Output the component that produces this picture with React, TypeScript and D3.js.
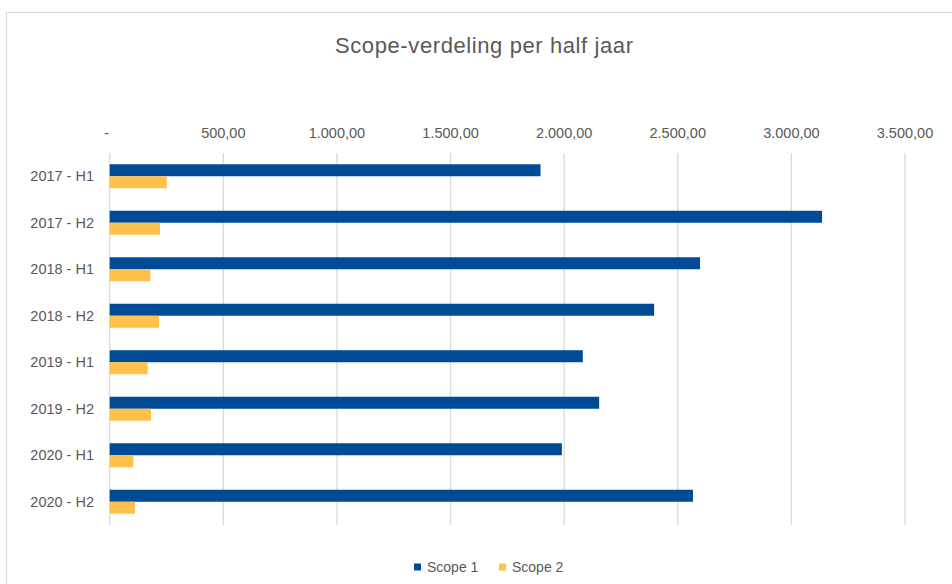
import { useMemo } from "react";
import * as d3 from "d3";

const categories = [
  "2017 - H1",
  "2017 - H2",
  "2018 - H1",
  "2018 - H2",
  "2019 - H1",
  "2019 - H2",
  "2020 - H1",
  "2020 - H2",
];
const seriesNames = ["Scope 1", "Scope 2"];
const scope1 = [1896, 3135, 2598, 2396, 2082, 2154, 1990, 2567];
const scope2 = [251, 221, 179, 217, 167, 182, 104, 111];
const xTicks = [0, 500, 1000, 1500, 2000, 2500, 3000, 3500];

const colors = ["#004a96", "#ffc04c"];
const font = "'Liberation Sans', Arial, sans-serif";
const textColor = "#595959";

const nl = d3.formatLocale({
  decimal: ",",
  thousands: ".",
  grouping: [3],
  currency: ["", ""],
});
const fmt = (v: number) => (v === 0 ? "-" : nl.format(",.2f")(v));

export default function App() {
  const width = 952;
  const height = 584;

  const x = useMemo(() => d3.scaleLinear().domain([0, 3500]).range([109.7, 905]), []);
  const y = useMemo(() => d3.scaleBand<string>().domain(categories).range([153, 525]), []);
  const barH = 12;
  const inner = useMemo(
    () => d3.scaleBand<string>().domain(seriesNames).range([0, barH * 2]),
    []
  );
  const offset = (y.bandwidth() - barH * 2) / 2;
  const values = [scope1, scope2];

  return (
    <svg
      width={width}
      height={height}
      style={{ position: "absolute", left: 0, top: 0, background: "#fff" }}
      fontFamily={font}
    >
      <rect x={6.5} y={12.5} width={960} height={600} fill="#fff" stroke="#d9d9d9" />
      <text
        x={484}
        y={52.5}
        textAnchor="middle"
        fontSize={22}
        fill={textColor}
        textLength={298}
      >
        Scope-verdeling per half jaar
      </text>

      {/* gridlines + tick labels */}
      {xTicks.map((t) => (
        <g key={t}>
          <line
            x1={x(t)}
            x2={x(t)}
            y1={153}
            y2={525}
            stroke="#d9d9d9"
            strokeWidth={1.3}
          />
          <text
            x={t === 0 ? x(t) - 3 : x(t)}
            y={138}
            textAnchor="middle"
            fontSize={14.5}
            fill={textColor}
          >
            {fmt(t)}
          </text>
        </g>
      ))}

      {/* bars */}
      {categories.map((c, i) => (
        <g key={c} transform={`translate(0,${(y(c) ?? 0) + offset})`}>
          {seriesNames.map((s, si) => (
            <rect
              key={s}
              x={x(0)}
              y={inner(s)}
              width={x(values[si][i]) - x(0)}
              height={inner.bandwidth()}
              fill={colors[si]}
            />
          ))}
          <text
            x={94}
            y={barH + 5}
            textAnchor="end"
            fontSize={14.5}
            fill={textColor}
          >
            {c}
          </text>
        </g>
      ))}

      {/* legend */}
      {seriesNames.map((s, si) => {
        const lx = si === 0 ? 414 : 499;
        return (
          <g key={s}>
            <rect x={lx} y={563.5} width={7} height={7} fill={colors[si]} />
            <text x={lx + 13} y={572} fontSize={14} fill={textColor}>
              {s}
            </text>
          </g>
        );
      })}
    </svg>
  );
}
